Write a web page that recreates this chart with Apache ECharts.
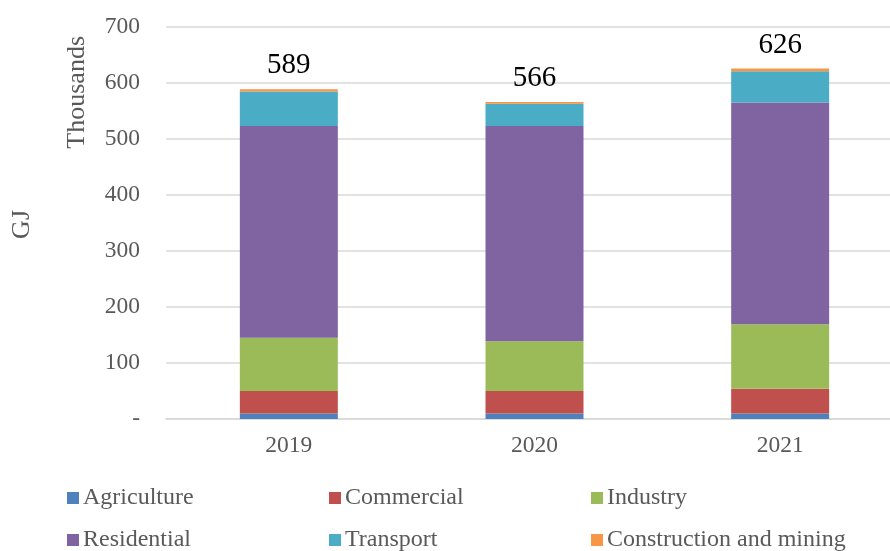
<!DOCTYPE html>
<html>
<head>
<meta charset="utf-8">
<script src="https://cdn.jsdelivr.net/npm/echarts@6/dist/echarts.min.js"></script>
<style>
  html, body { margin: 0; padding: 0; background: #fff; overflow: hidden; }
  /* plot area runs slightly past the right edge of the window */
  #chart { width: 903px; height: 551px; }
</style>
</head>
<body>
<div id="chart"></div>
<script>
// Energy use by sector, thousands of GJ
const years = ['2019', '2020', '2021'];
const agriculture  = [10, 10, 10];
const commercial   = [40, 40, 44];
const industry     = [95, 89, 115];
const residential  = [378, 384, 396];
const transport    = [62, 40, 56];
const construction = [4, 3, 5];
const yTicks = [0, 100, 200, 300, 400, 500, 600, 700];

const sectorNames = ['Agriculture', 'Commercial', 'Industry', 'Residential', 'Transport', 'Construction and mining'];
const sectorValues = [agriculture, commercial, industry, residential, transport, construction];
const sectorColors = ['#4F81BD', '#C0504D', '#9BBB59', '#8064A2', '#4BACC6', '#F79646'];

const totals = years.map((_, i) => sectorValues.reduce((s, arr) => s + arr[i], 0));

const FONT = '"Liberation Serif", "Times New Roman", serif';
const GREY = '#595959';

const series = sectorNames.map((name, k) => {
  const s = {
    name: name,
    type: 'bar',
    stack: 'total',
    barWidth: 98,
    itemStyle: { color: sectorColors[k] },
    data: sectorValues[k]
  };
  if (k === sectorNames.length - 1) {
    s.label = {
      show: true,
      position: 'top',
      distance: 9,
      fontFamily: FONT,
      fontSize: 29,
      color: '#000',
      formatter: p => String(totals[p.dataIndex])
    };
  }
  return s;
});

// legend laid out as a 3-column, 2-row table
const legendCols = [67, 329, 591];
const legendRows = [486, 528];
const legends = sectorNames.map((name, k) => ({
  left: legendCols[k % 3],
  top: legendRows[Math.floor(k / 3)],
  padding: 0,
  itemWidth: 12,
  itemHeight: 12,
  itemGap: 0,
  icon: 'rect',
  textStyle: { fontFamily: FONT, fontSize: 24, color: GREY, padding: [0, 0, 0, -1], lineHeight: 24 },
  data: [name]
}));

const chart = echarts.init(document.getElementById('chart'), null, { renderer: 'canvas' });
chart.setOption({
  animation: false,
  grid: { left: 166, right: 0, top: 27, bottom: 132, containLabel: false },
  legend: legends,
  xAxis: {
    type: 'category',
    data: years,
    axisLine: { lineStyle: { color: '#d9d9d9', width: 1.5 } },
    axisTick: { show: false },
    axisLabel: { fontFamily: FONT, fontSize: 23.5, color: GREY, margin: 15 }
  },
  yAxis: {
    type: 'value',
    min: yTicks[0],
    max: yTicks[yTicks.length - 1],
    interval: 100,
    axisLine: { show: false },
    axisTick: { show: false },
    splitLine: { lineStyle: { color: '#d9d9d9', width: 1.5 } },
    axisLabel: {
      fontFamily: FONT, fontSize: 23.5, color: GREY, margin: 26,
      formatter: v => (v === 0 ? '-' : String(v))
    }
  },
  graphic: [
    {
      type: 'text', left: 64, top: 36, rotation: Math.PI / 2,
      style: { text: 'Thousands', fontFamily: FONT, fontSize: 26, fill: GREY }
    },
    {
      type: 'text', left: 9, top: 210, rotation: Math.PI / 2,
      style: { text: 'GJ', fontFamily: FONT, fontSize: 26, fill: GREY }
    }
  ],
  series: series
});
</script>
</body>
</html>
